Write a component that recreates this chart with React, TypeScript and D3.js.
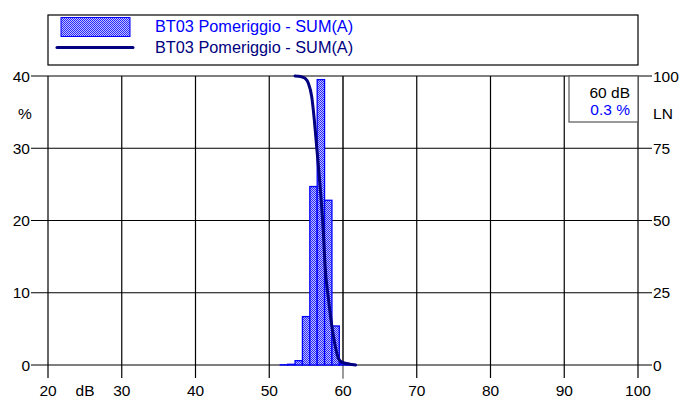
import React from "react";
import * as d3 from "d3";

const seriesName = "BT03 Pomeriggio - SUM(A)";
const binCenters = [52, 53, 54, 55, 56, 57, 58, 59, 60, 61];
const binPercent = [0.03, 0.1, 0.6, 6.7, 24.7, 39.5, 22.8, 5.4, 0.2, 0.06];
const lnLevels = [53.5, 54.0, 54.5, 54.85, 55.3, 55.76, 56.11, 56.43, 56.65, 57.02, 57.33, 57.56, 58.01, 58.47, 58.92, 59.36, 59.82, 60.5, 61.2, 61.7];
const lnPercent = [100, 99.9, 99.6, 99.2, 97.5, 92.8, 84.8, 75.5, 69.2, 57.8, 46.1, 34.6, 23.2, 13.8, 6.9, 2.4, 1.0, 0.5, 0.2, 0];
const xTicks = [20, 30, 40, 50, 60, 70, 80, 90, 100];
const yLeftTicks = [0, 10, 20, 30, 40];
const yRightTicks = [0, 25, 50, 75, 100];
const cursorLevel = 60;
const cursorText = "60 dB";
const cursorValue = "0.3 %";

export default function App() {
  const W = 695, H = 398;
  const x = d3.scaleLinear().domain([20, 100]).range([48, 638]);
  const yL = d3.scaleLinear().domain([0, 40]).range([365, 76]);
  const yR = d3.scaleLinear().domain([0, 100]).range([365, 76]);
  const font = "'Liberation Sans', Arial, sans-serif";
  const navy = "#000080";
  const blue = "#0000ff";
  const line = d3
    .line<number>()
    .x((_, i) => x(lnLevels[i]))
    .y((d) => yR(d))
    .curve(d3.curveMonotoneX);
  const [l, r] = x.range();
  const [b, t] = yL.range();
  return (
    <svg width={W} height={H} style={{ position: "absolute", left: 0, top: 0 }} fontFamily={font}>
      <defs>
        <pattern id="dots" width={2} height={2} patternUnits="userSpaceOnUse">
          <rect width={2} height={2} fill="#c0c0ff" />
          <rect x={0} y={0} width={1} height={1} fill="#2a2aff" />
          <rect x={1} y={1} width={1} height={1} fill="#2a2aff" />
        </pattern>
      </defs>
      <rect width={W} height={H} fill="#fff" />
      {/* legend */}
      <rect x={48} y={15} width={590} height={50} fill="#fff" stroke="#000" strokeWidth={1.2} />
      <rect x={61} y={17.5} width={69} height={19} fill="url(#dots)" stroke={blue} strokeWidth={1} />
      <line x1={57} x2={133} y1={47.5} y2={47.5} stroke={navy} strokeWidth={3} strokeLinecap="round" />
      <text x={155} y={32} fontSize={16.3} fill={blue}>{seriesName}</text>
      <text x={155} y={53} fontSize={16.3} fill={navy}>{seriesName}</text>

      {/* cursor line */}
      <line x1={x(cursorLevel)} x2={x(cursorLevel)} y1={t} y2={b + 14} stroke="#888" strokeWidth={1.2} />
      {/* vertical grid */}
      {xTicks.map((v) => (
        <g key={"x" + v}>
          <line x1={x(v)} x2={x(v)} y1={t} y2={b} stroke="#000" strokeWidth={1.2} />
          <line x1={x(v)} x2={x(v)} y1={b} y2={b + 13} stroke={v === cursorLevel ? "#888" : "#000"} strokeWidth={1.2} />
          <text x={x(v)} y={396} fontSize={15.5} textAnchor="middle" fill="#000">{v}</text>
        </g>
      ))}
      {/* horizontal grid */}
      {yLeftTicks.map((v, i) => (
        <g key={"y" + v}>
          <line x1={l - 17} x2={r + 14} y1={yL(v)} y2={yL(v)} stroke="#000" strokeWidth={1.2} />
          <text x={l - 18} y={yL(v) + 5.5} fontSize={15.5} textAnchor="end" fill="#000">{v}</text>
          <text x={r + 15} y={yR(yRightTicks[i]) + 5.5} fontSize={15.5} textAnchor="start" fill="#000">{yRightTicks[i]}</text>
        </g>
      ))}
      <text x={25} y={119} fontSize={15.5} textAnchor="middle">%</text>
      <text x={663} y={119} fontSize={15.5} textAnchor="middle">LN</text>
      <text x={85} y={396} fontSize={15.5} textAnchor="middle">dB</text>

      {/* bars */}
      {binCenters.map((c, i) => (
        <rect
          key={"b" + c}
          x={x(c - 0.5)}
          y={yL(binPercent[i])}
          width={x(c + 0.5) - x(c - 0.5)}
          height={b - yL(binPercent[i])}
          fill="url(#dots)"
          stroke={blue}
          strokeWidth={1.3}
        />
      ))}
      {/* cumulative curve */}
      <path d={line(lnPercent) || ""} fill="none" stroke={navy} strokeWidth={3} strokeLinejoin="round" strokeLinecap="round" />

      {/* info box */}
      <rect x={569} y={t} width={r - 569} height={46} fill="#fff" stroke="#555" strokeWidth={1.2} />
      <text x={630} y={98} fontSize={15.5} textAnchor="end" fill="#000">{cursorText}</text>
      <text x={630} y={115} fontSize={15.5} textAnchor="end" fill={blue}>{cursorValue}</text>
    </svg>
  );
}
